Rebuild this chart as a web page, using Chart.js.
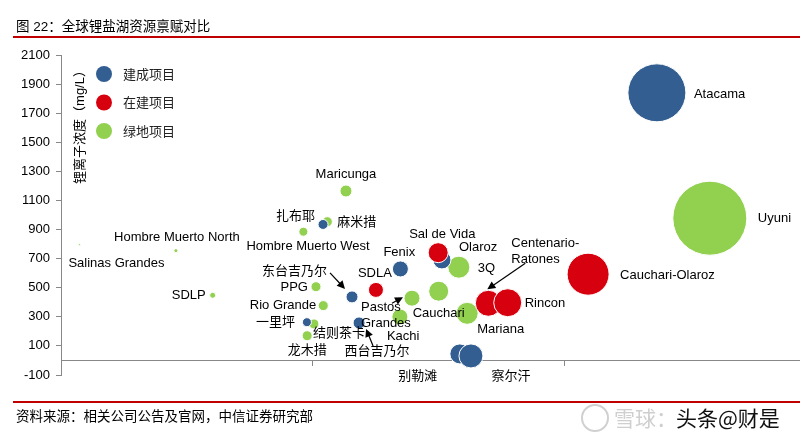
<!DOCTYPE html>
<html>
<head>
<meta charset="utf-8">
<script src="https://cdn.jsdelivr.net/npm/chart.js@4.4.0/dist/chart.umd.min.js"></script>
<style>
    body { margin: 0; background: #fff; }
    canvas { display: block; }
</style>
</head>
<body>
<canvas id="myChart" width="800" height="440"></canvas>
<script>
// 建成项目
const builtNames = ['Atacama', '扎布耶', 'Fenix', '东台吉乃尔', '一里坪', '西台吉乃尔', 'Olaroz', '别勒滩', '察尔汗']
const builtX = [2.365, 1.04, 1.347, 1.155, 0.976, 1.183, 1.512, 1.583, 1.627]
const builtY = [1840, 935, 629, 437, 263, 258, 691, 45, 31]
const builtR = [29, 5, 8, 6, 4.5, 6, 9, 10, 12]

// 在建项目
const buildingNames = ['Sal de Vida', 'SDLA', 'Centenario-\nRatones', 'Rincon', 'Cauchari-Olaroz']
const buildingX = [1.497, 1.25, 1.696, 1.773, 2.092]
const buildingY = [741, 485, 393, 397, 593]
const buildingR = [10, 7.5, 13, 14, 21]

// 绿地项目
const greenNames = ['Uyuni', 'Maricunga', '麻米措', 'Hombre Muerto West', 'PPG', 'Rio Grande', '结则茶卡', '龙木措',
    'Pastos\nGrandes', 'Kachi', 'Cauchari', '3Q', 'Mariana', 'Hombre Muerto North', 'Salinas Grandes', 'SDLP']
const greenX = [2.575, 1.131, 1.057, 0.962, 1.012, 1.041, 1.004, 0.977, 1.393, 1.345, 1.499, 1.579, 1.612, 0.456, 0.073, 0.602]
const greenY = [978, 1165, 954, 885, 507, 377, 251, 170, 428, 299, 476, 641, 324, 755, 796, 448]
const greenR = [37, 6, 5, 4.5, 5, 5, 5, 5, 8, 8, 10, 11, 11, 2, 1, 3]

const yTicks = { min: -100, max: 2100, step: 200 }
const seriesNames = ['建成项目', '在建项目', '绿地项目']

const colors = ['#335e91', '#d7000f', '#92d050']
const labelFont = '13px "Liberation Sans", "Noto Sans CJK SC", sans-serif'

// label offsets from bubble centre: dx, dy, align
const labelPos = {
    'Atacama': [37, 2, 'left'],
    '扎布耶': [-8, -8, 'right'],
    'Fenix': [-17, -17, 'left'],
    '东台吉乃尔': [-25, -25, 'right'],
    '一里坪': [-12, 0, 'right'],
    '西台吉乃尔': [18, 28, 'center'],
    'Olaroz': [17, -13, 'left'],
    '别勒滩': [-42, 23, 'center'],
    '察尔汗': [40, 20, 'center'],
    'Sal de Vida': [-29, -18, 'left'],
    'SDLA': [-18, -16, 'left'],
    'Centenario-\nRatones': [23, -60, 'left'],
    'Rincon': [17, 1, 'left'],
    'Cauchari-Olaroz': [32, 1, 'left'],
    'Uyuni': [48, 0, 'left'],
    'Maricunga': [0, -17, 'center'],
    '麻米措': [10, 1, 'left'],
    'Hombre Muerto West': [-57, 15, 'left'],
    'PPG': [-8, 1, 'right'],
    'Rio Grande': [-7, 0, 'right'],
    '结则茶卡': [-1, 9, 'left'],
    '龙木措': [0, 15, 'center'],
    'Pastos\nGrandes': [-51, 9, 'left'],
    'Kachi': [-13, 19, 'left'],
    'Cauchari': [-26, 22, 'left'],
    '3Q': [19, 1, 'left'],
    'Mariana': [10, 16, 'left'],
    'Hombre Muerto North': [1, -13, 'center'],
    'Salinas Grandes': [-11, 19, 'left'],
    'SDLP': [-7, 0, 'right']
}

// arrows: bubble name, tail dx/dy, head dx/dy
const arrows = [
    ['东台吉乃尔', -22, -24, -7, -8],
    ['Pastos\nGrandes', -20, 5, -9, -1],
    ['西台吉乃尔', 14, 23, 7, 6],
    ['Centenario-\nRatones', 37, -40, -1, -14]
]

const toPoints = (xs, ys, rs) => xs.map((x, i) => ({ x: x, y: ys[i], r: rs[i] }))
const allNames = [builtNames, buildingNames, greenNames]

const findPoint = (chart, name) => {
    for (let d = 0; d < allNames.length; d++) {
        const i = allNames[d].indexOf(name)
        if (i >= 0) return chart.getDatasetMeta(d).data[i]
    }
    return null
}

const drawArrow = (ctx, x1, y1, x2, y2) => {
    const a = Math.atan2(y2 - y1, x2 - x1)
    const len = 8
    ctx.strokeStyle = '#000'
    ctx.fillStyle = '#000'
    ctx.lineWidth = 1.2
    ctx.beginPath()
    ctx.moveTo(x1, y1)
    ctx.lineTo(x2 - Math.cos(a) * len * 0.8, y2 - Math.sin(a) * len * 0.8)
    ctx.stroke()
    ctx.beginPath()
    ctx.moveTo(x2, y2)
    ctx.lineTo(x2 - len * Math.cos(a) + 4 * Math.sin(a), y2 - len * Math.sin(a) - 4 * Math.cos(a))
    ctx.lineTo(x2 - len * Math.cos(a) - 4 * Math.sin(a), y2 - len * Math.sin(a) + 4 * Math.cos(a))
    ctx.closePath()
    ctx.fill()
}

const decor = {
    id: 'decor',
    beforeDraw(chart) {
        const ctx = chart.ctx
        ctx.save()
        ctx.fillStyle = '#fff'
        ctx.fillRect(0, 0, chart.width, chart.height)
        ctx.restore()
    },
    afterDraw(chart) {
        const ctx = chart.ctx
        ctx.save()
        ctx.textBaseline = 'middle'

        // title and source
        ctx.fillStyle = '#000'
        ctx.font = '13.5px "Liberation Sans", "Noto Sans CJK SC", sans-serif'
        ctx.textAlign = 'left'
        ctx.fillText('图 22：全球锂盐湖资源禀赋对比', 16, 27)
        ctx.fillText('资料来源：相关公司公告及官网，中信证券研究部', 16, 417)
        ctx.strokeStyle = '#c00000'
        ctx.lineWidth = 2
        ctx.beginPath()
        ctx.moveTo(13, 37)
        ctx.lineTo(800, 37)
        ctx.moveTo(13, 402)
        ctx.lineTo(800, 402)
        ctx.stroke()

        // watermark
        ctx.strokeStyle = '#d0d0d0'
        ctx.lineWidth = 2
        ctx.beginPath()
        ctx.arc(595, 418, 13, 0, Math.PI * 2)
        ctx.stroke()
        ctx.font = '21px "Noto Sans CJK SC", sans-serif'
        ctx.fillStyle = '#cfcfcf'
        ctx.fillText('雪球：', 614, 418)
        ctx.fillStyle = '#111'
        ctx.fillText('头条@财是', 676, 418)

        // axis title
        ctx.save()
        ctx.translate(80, 124)
        ctx.rotate(-Math.PI / 2)
        ctx.textAlign = 'center'
        ctx.fillStyle = '#000'
        ctx.font = '13px "Liberation Sans", "Noto Sans CJK SC", sans-serif'
        ctx.fillText('锂离子浓度（mg/L）', 0, 0)
        ctx.restore()

        // legend
        seriesNames.forEach((name, i) => {
            const y = 74 + i * 28.5
            ctx.fillStyle = colors[i]
            ctx.beginPath()
            ctx.arc(104, y, 8, 0, Math.PI * 2)
            ctx.fill()
            ctx.fillStyle = '#222'
            ctx.font = '13px "Noto Sans CJK SC", sans-serif'
            ctx.textAlign = 'left'
            ctx.fillText(name, 123, y)
        })

        // bubble labels
        ctx.font = labelFont
        ctx.fillStyle = '#000'
        allNames.forEach((names, d) => {
            const meta = chart.getDatasetMeta(d)
            names.forEach((name, i) => {
                const p = meta.data[i]
                const pos = labelPos[name]
                if (!p || !pos) return
                ctx.textAlign = pos[2]
                name.split('\n').forEach((line, k) => {
                    ctx.fillText(line, p.x + pos[0], p.y + pos[1] + k * 16)
                })
            })
        })

        arrows.forEach(a => {
            const p = findPoint(chart, a[0])
            if (p) drawArrow(ctx, p.x + a[1], p.y + a[2], p.x + a[3], p.y + a[4])
        })
        ctx.restore()
    }
}

const ctx = document.getElementById('myChart').getContext('2d')
const chart = new Chart(ctx, {
    type: 'bubble',
    data: {
        datasets: [
            { label: seriesNames[0], data: toPoints(builtX, builtY, builtR), backgroundColor: colors[0], order: 1 },
            { label: seriesNames[1], data: toPoints(buildingX, buildingY, buildingR), backgroundColor: colors[1], order: 0 },
            { label: seriesNames[2], data: toPoints(greenX, greenY, greenR), backgroundColor: colors[2], order: 2 }
        ]
    },
    options: {
        responsive: false,
        animation: false,
        events: [],
        layout: { autoPadding: false, padding: { left: 0, top: 55, right: 0, bottom: 65 } },
        elements: {
            point: { borderColor: '#fff', borderWidth: 1 }
        },
        plugins: {
            legend: { display: false },
            tooltip: { enabled: false }
        },
        scales: {
            x: {
                type: 'linear',
                min: 0,
                max: 2.933,
                position: { y: 0 },
                afterBuildTicks: scale => { scale.ticks = [0, 1, 2].map(v => ({ value: v })) },
                afterFit: scale => { scale.height = 0 },
                ticks: { display: false },
                grid: { drawOnChartArea: false, drawTicks: true, tickLength: 5, color: '#888' },
                border: { color: '#888', width: 1 }
            },
            y: {
                min: yTicks.min,
                max: yTicks.max,
                afterFit: scale => { scale.width = 61 },
                ticks: {
                    stepSize: yTicks.step,
                    color: '#000',
                    padding: 6,
                    callback: v => String(v),
                    font: { family: '"Liberation Sans", sans-serif', size: 13 }
                },
                grid: { drawOnChartArea: false, drawTicks: true, tickLength: 5, color: '#888' },
                border: { color: '#888', width: 1 }
            }
        }
    },
    plugins: [decor]
})
</script>
</body>
</html>
